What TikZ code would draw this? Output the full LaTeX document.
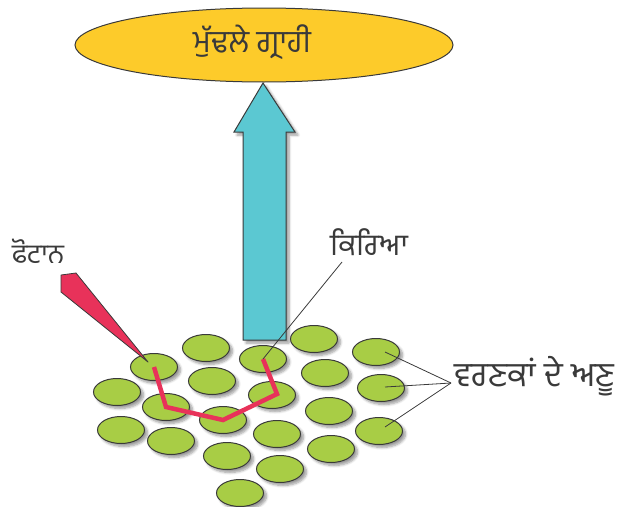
\documentclass[tikz,border=0pt]{standalone}
\usepackage{fontspec}
\newfontfamily\gurmukhi[Script=Gurmukhi]{Hind Jalandhar}
\usetikzlibrary{shapes.geometric,shadows.blur,calc}
\definecolor{accyellow}{HTML}{FDCB2A}
\definecolor{arrowcyan}{HTML}{5BC8D2}
\definecolor{pigment}{HTML}{A8CD45}
\definecolor{photonred}{HTML}{E8325A}
\definecolor{inkgray}{HTML}{3A3A3A}
\tikzset{
  outline/.style={draw=inkgray, line width=1pt},
  softshadow/.style={blur shadow={shadow xshift=3pt, shadow yshift=-3pt, shadow blur steps=6, shadow blur radius=2.5pt, shadow opacity=40}},
  molecule/.style={ellipse, outline, fill=pigment, minimum width=47pt, minimum height=27pt, inner sep=0pt, softshadow},
  label/.style={text=inkgray, inner sep=0pt},
  leader/.style={draw=inkgray, line width=0.8pt},
}
\newcommand{\gsize}[1]{\gurmukhi\fontsize{#1}{#1}\selectfont}
\begin{document}
\begin{tikzpicture}[x=1pt, y=-1pt]
\useasboundingbox (0,0) rectangle (621,506);

% primary acceptor
\node[ellipse, outline, fill=accyellow, minimum width=378pt, minimum height=74pt, inner sep=0pt] (acceptor) at (264,45) {};
\node[label, font=\gsize{31}] (acceptortext) at (252,42) {ਮੁੱਢਲੇ ਗ੍ਰਾਹੀ};

% energy transfer arrow
\coordinate (tip) at (263,83);
\filldraw[outline, fill=arrowcyan, line join=miter, softshadow]
  (tip) -- (295,132) -- (286,132) -- (286,340) -- (243,340) -- (243,132) -- (234,132) -- cycle;

% pigment molecules
\foreach \n/\x/\y in {
  1/154/367, 2/206/348, 3/263/359, 4/314/339, 5/376/352,
  6/117/392, 7/212/381, 8/325/373, 9/381/388,
  10/166/407, 11/272/395, 12/223/420, 13/329/411,
  14/121/430, 15/171/441, 16/277/434, 17/379/431,
  18/227/456, 19/331/449, 20/280/469, 21/240/493}
  \node[molecule] (m\n) at (\x,\y) {};

% excitation path through the antenna
\draw[photonred, line width=4.5pt, line join=miter]
  (m1.center) -- (m10.center) -- (m12.center) -- ($(m11.center)+(5,-1)$) -- (m3.center);

% incoming photon
\coordinate (photontip) at (148,362);
\filldraw[draw=inkgray, line width=0.8pt, fill=photonred, line join=round]
  (61,275) -- (76,273) -- (photontip) -- (61,292) -- cycle;
\node[label, font=\gsize{27}] (photon) at (38,251) {ਫੋਟਾਨ};

% reaction centre label
\node[label, font=\gsize{30}] (reaction) at (369,242) {ਕਿਰਿਆ};
\coordinate (reactionfoot) at (342,262);
\draw[leader] (reactionfoot) -- (m3.center);

% pigment molecule label
\node[label, font=\gsize{34}, anchor=west] (pigments) at (454,376) {ਵਰਣਕਾਂ ਦੇ ਅਣੂ};
\coordinate (hub) at (451,383);
\draw[leader] (hub) -- ($(m5.center)+(9,0)$);
\draw[leader] (hub) -- ($(m9.center)+(4,-1)$);
\draw[leader] (hub) -- ($(m17.center)+(6,-4)$);
\end{tikzpicture}
\end{document}
